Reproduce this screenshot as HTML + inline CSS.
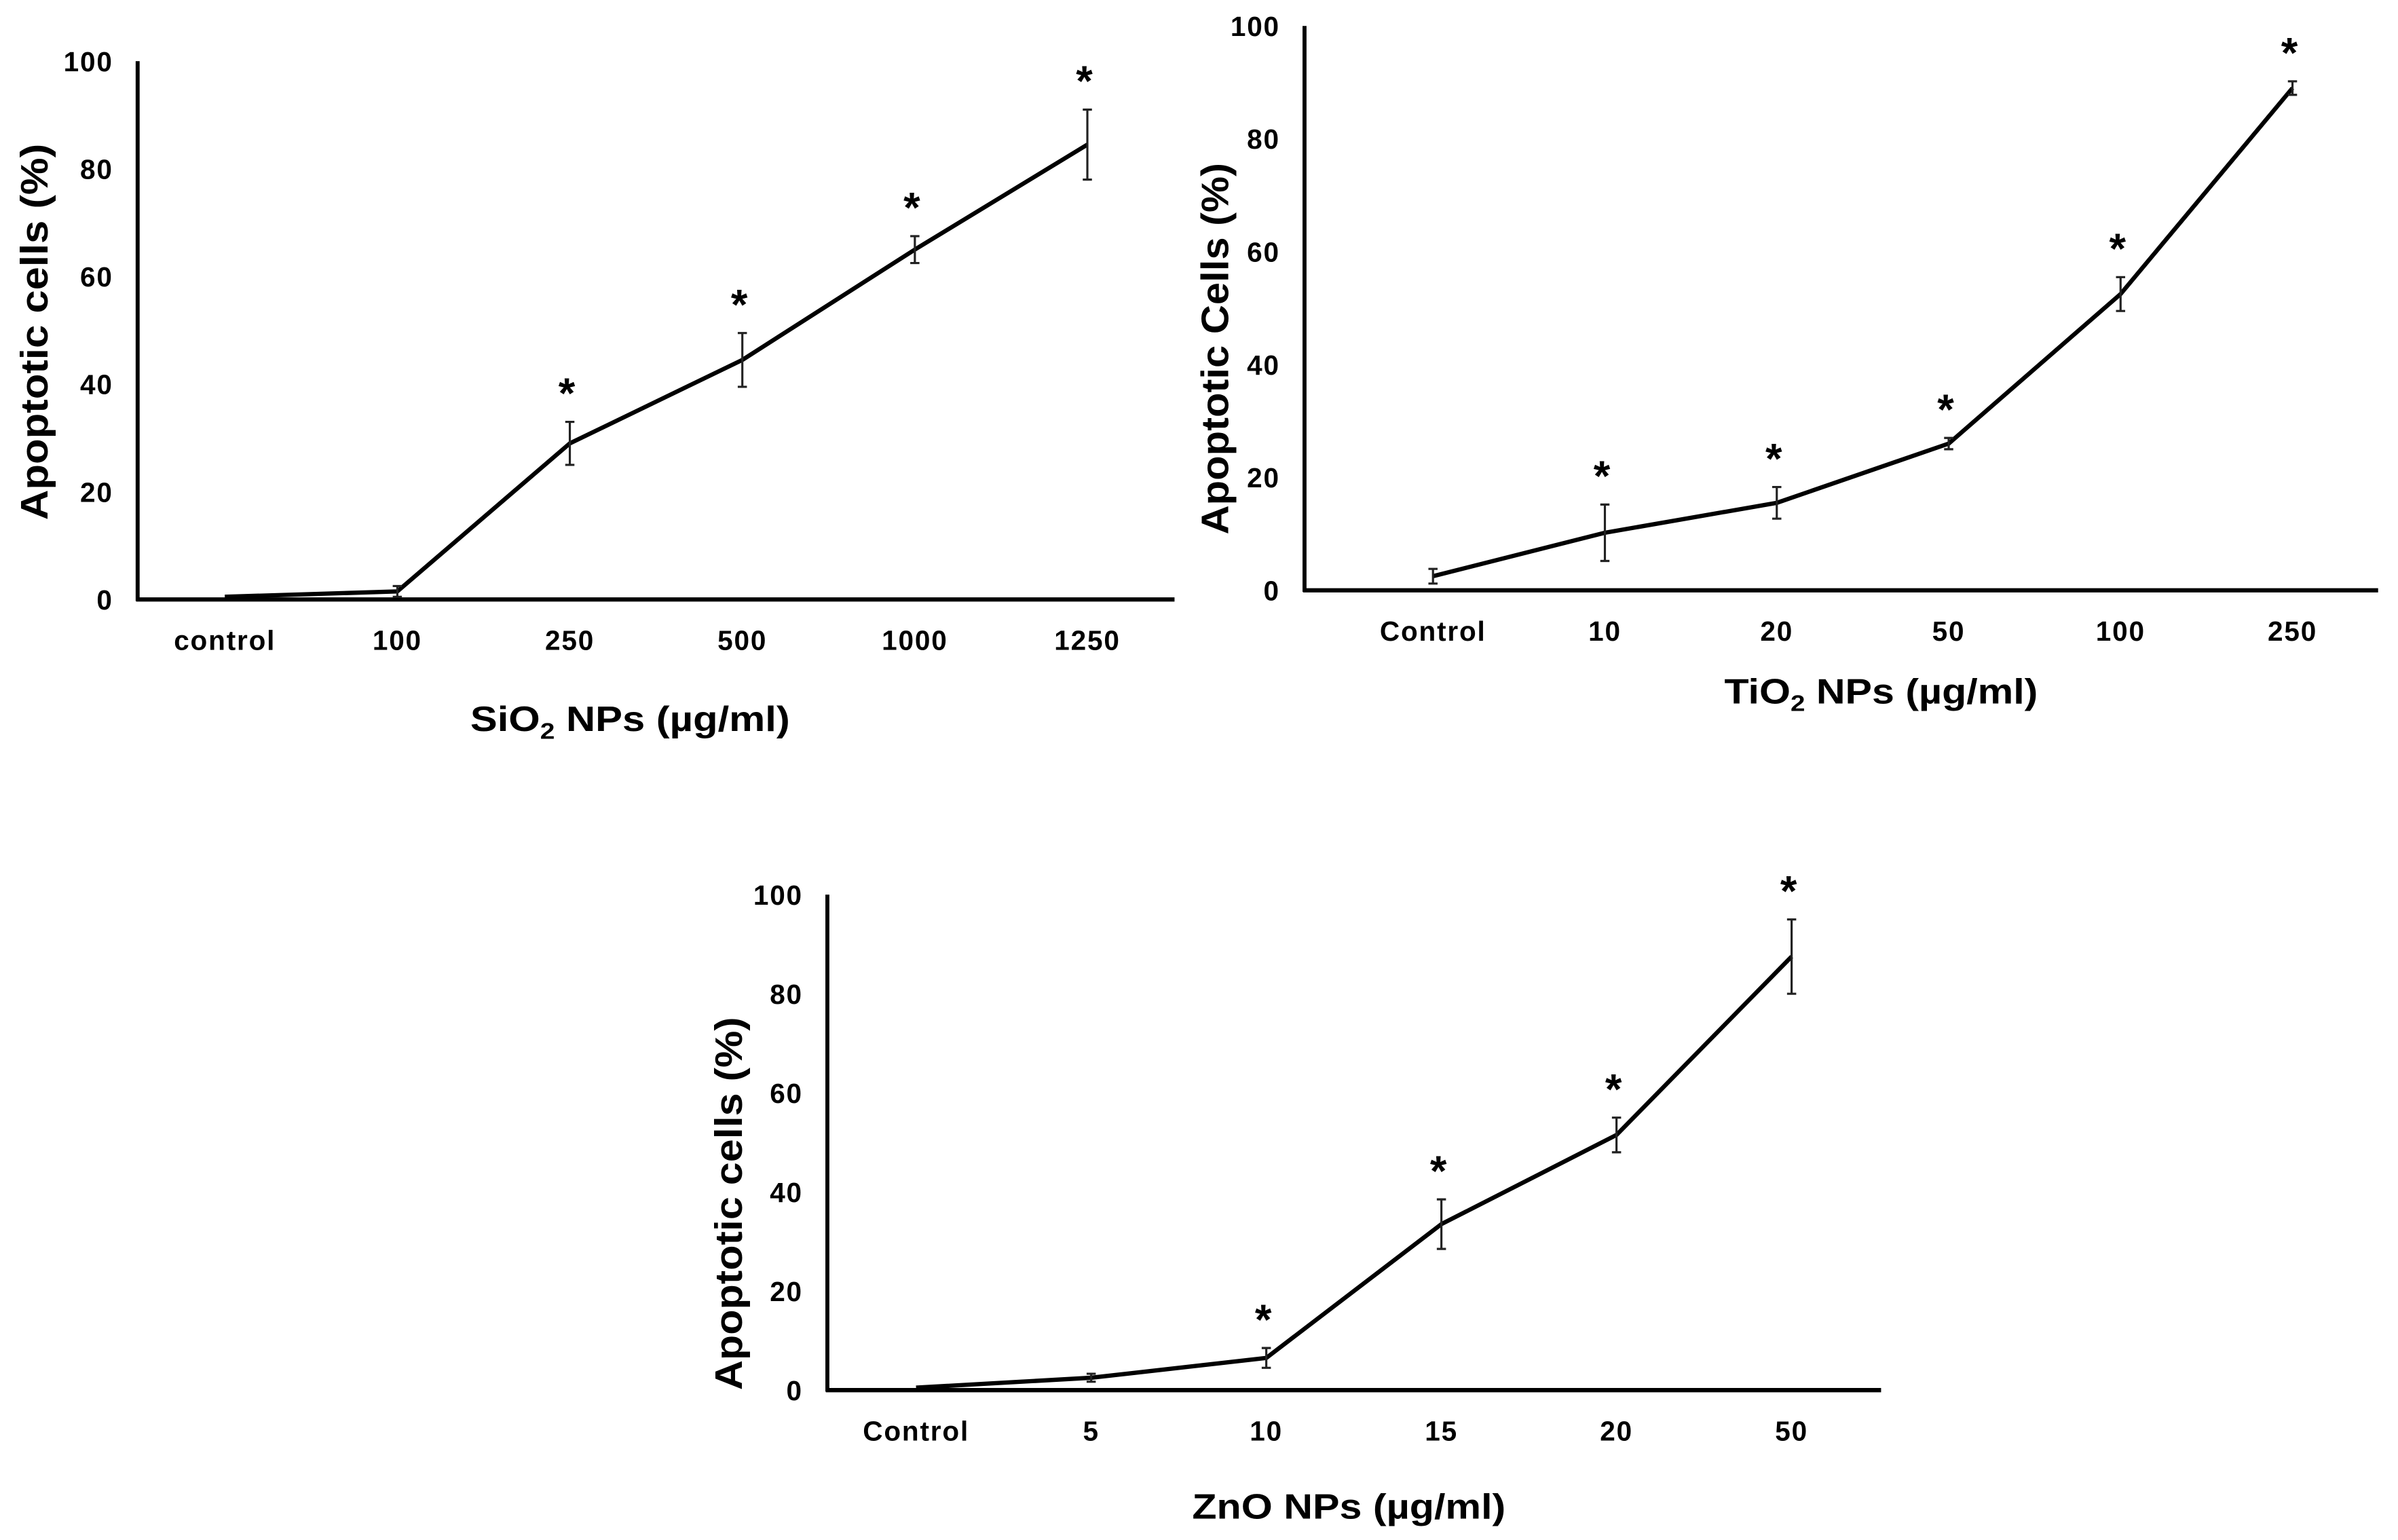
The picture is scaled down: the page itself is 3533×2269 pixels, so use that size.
<!DOCTYPE html>
<html><head><meta charset="utf-8">
<style>
html,body{margin:0;padding:0;background:#fff;}
svg{display:block;}
text{font-family:"Liberation Sans",Arial,sans-serif;font-weight:bold;fill:#000;}
</style></head>
<body>
<svg id="fig" width="3533" height="2269" viewBox="0 0 1568 1007" preserveAspectRatio="none" xmlns="http://www.w3.org/2000/svg"></svg>
<script>
// Panel 1: SiO2
const sioCats = ["control","100","250","500","1000","1250"];
const sioVals = [0.5, 1.5, 29, 44.5, 65, 84.5];
const sioErr = [0, 1, 4, 5, 2.5, 6.5];
const sioStar = [false, false, true, true, true, true];
// Panel 2: TiO2
const tioCats = ["Control","10","20","50","100","250"];
const tioVals = [2.5, 10.2, 15.5, 26, 52.5, 89];
const tioErr = [1.3, 5, 2.8, 1, 3, 1.2];
const tioStar = [false, true, true, true, true, true];
// Panel 3: ZnO
const znoCats = ["Control","5","10","15","20","50"];
const znoVals = [0.5, 2.5, 6.5, 33.5, 51.5, 87.5];
const znoErr = [0, 0.8, 2, 5, 3.5, 7.5];
const znoStar = [false, false, true, true, true, true];
const yTicks = [0, 20, 40, 60, 80, 100];

const NS = "http://www.w3.org/2000/svg";
const svg = document.getElementById('fig');
function mk(tag, attrs, parent){
  const e = document.createElementNS(NS, tag);
  for (const k in attrs) e.setAttribute(k, attrs[k]);
  parent.appendChild(e); return e;
}
function panel(cfg){
  const g = mk('g', {}, svg);
  
  
  const y = v => cfg.y0 - (v/100)*(cfg.y0 - cfg.yTop);
  const x = i => cfg.xs0 + i*cfg.dx;
  const ya = mk('line', {x1:cfg.ax, y1:cfg.yTop, x2:cfg.ax, y2:cfg.y0+1, stroke:'#000','stroke-width':2.6}, g);
  
  
  const xa = mk('line', {x1:cfg.ax-1, y1:cfg.y0, x2:cfg.xEnd, y2:cfg.y0, stroke:'#000','stroke-width':2.8}, g);
  
  
  yTicks.forEach(t => {
    const tl = mk('text', {x:cfg.ax-16, y:y(t)+6.5, 'text-anchor':'end', 'font-size':18, 'letter-spacing':0.8}, g);
    tl.textContent = t;
    
    
  });
  cfg.cats.forEach((c,i) => {
    const tl = mk('text', {x:x(i), y:cfg.y0+33, 'text-anchor':'middle', 'font-size':18, 'letter-spacing':0.8}, g);
    tl.textContent = c;
    
    
  });
  const pts = cfg.vals.map((v,i) => x(i)+','+y(v)).join(' ');
  const pl = mk('polyline', {points:pts, fill:'none', stroke:'#000', 'stroke-width':2.8, 'stroke-linejoin':'round'}, g);
  
  
  cfg.vals.forEach((v,i) => {
    const e = cfg.err[i];
    if (e > 0) {
      const eb = mk('path', {d:`M${x(i)-3},${y(v+e)}H${x(i)+3}M${x(i)},${y(v+e)}V${y(v-e)}M${x(i)-3},${y(v-e)}H${x(i)+3}`, stroke:'#222', 'stroke-width':1.4, fill:'none'}, g);
      
      
    }
    if (cfg.star[i]) {
      const st = mk('text', {x:x(i)-2, y:y(v+e)-9, 'text-anchor':'middle', 'font-size':28}, g);
      st.textContent = '*';
      
      
    }
  });
  const yt = mk('text', {x:0, y:0, 'text-anchor':'middle', 'font-size':25, textLength:cfg.ytLen, lengthAdjust:'spacingAndGlyphs', transform:`translate(${cfg.ytX},${cfg.ytY}) rotate(-90)`}, g);
  yt.textContent = cfg.yTitle;
  
  
  const xt = mk('text', {x:cfg.xtX, y:cfg.xtY, 'text-anchor':'middle', 'font-size':23, textLength:cfg.xtLen, lengthAdjust:'spacingAndGlyphs'}, g);
  
  
  if (cfg.sub) {
    xt.appendChild(document.createTextNode(cfg.xPre));
    const ts = mk('tspan', {'font-size':15, dy:5}, xt); ts.textContent = '2';
    const ts2 = mk('tspan', {dy:-5}, xt); ts2.textContent = cfg.xPost;
  } else xt.textContent = cfg.xPre;
}
panel({name:'sio2-panel', ax:90, yTop:40, y0:392, xEnd:768, xs0:147, dx:112.8,
  cats:sioCats, vals:sioVals, err:sioErr, star:sioStar,
  yTitle:'Apoptotic cells (%)', ytX:31, ytY:217, ytLen:246, xtX:412, xtY:478, xtLen:209, sub:true, xPre:'SiO', xPost:' NPs (µg/ml)'});
panel({name:'tio2-panel', ax:853, yTop:17, y0:386, xEnd:1555, xs0:937, dx:112.4,
  cats:tioCats, vals:tioVals, err:tioErr, star:tioStar,
  yTitle:'Apoptotic Cells (%)', ytX:803, ytY:228, ytLen:243, xtX:1230, xtY:460, xtLen:205, sub:true, xPre:'TiO', xPost:' NPs (µg/ml)'});
panel({name:'zno-panel', ax:541, yTop:585, y0:909, xEnd:1230, xs0:599, dx:114.5,
  cats:znoCats, vals:znoVals, err:znoErr, star:znoStar,
  yTitle:'Apoptotic cells (%)', ytX:485, ytY:787, ytLen:244, xtX:882, xtY:993, xtLen:205, sub:false, xPre:'ZnO NPs (µg/ml)'});
</script>
</body></html>
